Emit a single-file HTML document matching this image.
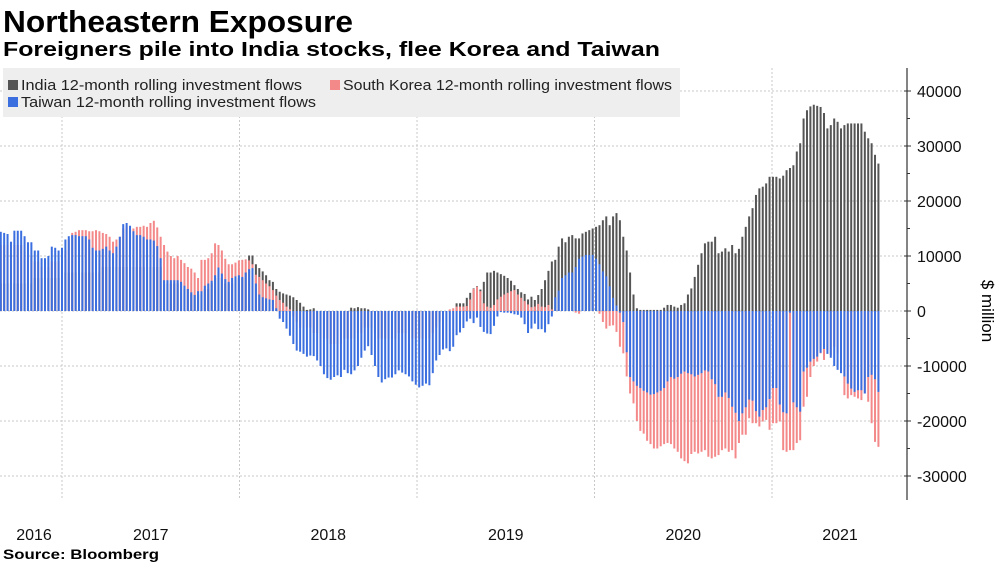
<!DOCTYPE html>
<html><head><meta charset="utf-8">
<style>
html,body{margin:0;padding:0;background:#fff;}
svg{display:block;font-family:"Liberation Sans",sans-serif;}
</style></head>
<body>
<svg id="chart" width="1003" height="564" viewBox="0 0 1003 564" xmlns="http://www.w3.org/2000/svg">
  <text x="3" y="32" font-size="31" font-weight="bold" fill="#000" textLength="350" lengthAdjust="spacingAndGlyphs">Northeastern Exposure</text>
  <text x="3" y="56" font-size="20" font-weight="bold" fill="#000" textLength="657" lengthAdjust="spacingAndGlyphs">Foreigners pile into India stocks, flee Korea and Taiwan</text>
  <g id="grid"></g>
  <g id="bars"></g>
  <g>
    <rect x="3" y="68" width="677" height="49" fill="#eeeeee"/>
    <g>
      <rect x="8" y="80" width="10" height="10" fill="#555555"/>
      <text x="21" y="90" font-size="14.5" fill="#222" textLength="281" lengthAdjust="spacingAndGlyphs">India 12-month rolling investment flows</text>
    </g>
    <g>
      <rect x="330" y="80" width="10" height="10" fill="#f4898a"/>
      <text x="343" y="90" font-size="14.5" fill="#222" textLength="329" lengthAdjust="spacingAndGlyphs">South Korea 12-month rolling investment flows</text>
    </g>
    <g>
      <rect x="8" y="97" width="10" height="10" fill="#3b6fe0"/>
      <text x="21" y="107" font-size="14.5" fill="#222" textLength="295" lengthAdjust="spacingAndGlyphs">Taiwan 12-month rolling investment flows</text>
    </g>
  </g>
  <g id="yaxis"></g>
  <g id="xaxis"></g>
  <text transform="translate(982,311) rotate(90)" text-anchor="middle" font-size="17" fill="#000">$ million</text>
  <text x="3" y="559" font-size="14" font-weight="bold" fill="#000" textLength="156" lengthAdjust="spacingAndGlyphs">Source: Bloomberg</text>
</svg>
<script>
// values in $ thousand-million (x1000 = $ million), weekly bars
const india = [5,5,5,5,5,5,5,5,5,5, 6,6,6,6,6,6,6,6,6,7, 7,7,7,7,7,7,7,7,7,7, 8,8,8,8,8,8,8,8,8,8,
 8,8,8,8,8,8,8,8,5,5, 5,5,5,5,4,4,3,3,3,3, 4,4,5,6,7,6,5,5,5,6, 6,6,7,10.1,10.1,8.5,7.8,7.2,6.5,5.6,
 5.3,4,3.5,3.2,3,2.8,2.5,2,1.5,0.8, 0.2,0.3,0.5,0,0,0,0,0,0,0, 0,0,0,0.6,0.5,0.7,0.5,0.5,0.3,0,
 0,0,0,0,0,0,0,0,0,0, 0,0,0,0,0,0,0,0,0,0, 0,0,0,0,1.4,1.4,1.4,2.4,3.3,4.1,
 4.5,3.9,5.3,7,7,7.3,7,6.7,6.4,6, 5.5,4.7,4,3.4,3.1,2.1,2.6,2,2.9,4, 5.6,7.3,9,9.3,11.7,13.2,12.5,13.5,13.8,13.2,
 13.2,14.1,14.4,14.7,15,15.3,15.6,16.5,17.2,15.6, 17.2,17.8,16.5,13.5,11,7,3,0.5,0.2,0.2,
 0.2,0.2,0.2,0.2,0.2,0.6,1.1,1.1,0.8,0.6, 1.1,1.4,3,4.1,6.2,8.4,10.5,12.3,12.6,12.6,
 13.5,10.5,10.8,11.4,10.8,12,10.5,11.3,13.5,15.3, 17.2,18.7,21.1,22.3,22.6,23.2,24.4,24.4,24.4,24.1,
 24.6,25.6,26,26.5,29,30.5,35,36.5,37.2,37.5, 37.3,37.1,36,33.2,33.8,35,34.4,33.2,33.8,34.1,
 34.1,34.1,34.1,34.1,32.6,31.4,30.5,28.4,26.8];
const korea = [12,12,12,10,12,12,12,11,10,10, 9,9,8,8,8,9,9,9,9,11,
 13,14.2,14.4,14.7,14.7,14.7,14.5,14.5,14.7,14.5, 14.2,14,13.5,12.6,13,13.5,15,15.5,15,15,
 15.3,15.3,15.5,15.3,16,16.4,15.2,13.5,12,10.8, 10,9.6,10,9.3,8.7,8,7.7,7,6,9.3,
 9.3,9.6,10.5,12.3,12,11,9.5,8.5,8.5,8.8, 9.2,9.3,9.4,9.2,8.5,6.6,6.2,5.6,5,4.5,
 3.8,2.8,2,1.5,0.8,0.3,-1,-2,-3,-3, -3,-3,-4,-4,-5,-5,-5,-6,-6,-6,
 -6,-5,-5,-5,-5,-4,-4,-3,-3,-3, -4,-5,-5,-5,-5,-5,-5,-4,-4,-4,
 -4,-5,-5,-5,-5,-5,-5,-4,-3,-2, -1,0,0.3,0.5,0.8,0.8,0.8,0.9,2.1,4,
 4.4,3.6,1.4,0.8,0.6,1.1,2.1,2.6,3,3.3, 3.6,3.8,3,2.4,1.8,1.2,0.7,0.8,1.3,0.8,
 0.7,1.1,0.3,0,0,0,0,0,0,-0.3, -0.5,0,0,0,0,0,-0.5,-2,-3.2,-2.7,
 -2.6,-3.8,-6.5,-7.7,-11.9,-15,-16.8,-20,-21.8,-22.3, -23.6,-24.2,-25,-25,-24.6,-24.2,-24,-24.2,-25,-25.6,
 -26.8,-27.3,-27.7,-26,-25.6,-25.9,-25.6,-25.3,-26.5,-26.8, -26.5,-26.2,-25.3,-25,-25.6,-25.3,-26.8,-24,-22.5,-22.5,
 -19.5,-20.4,-20.4,-21,-20.1,-19.8,-21.6,-20.4,-20.4,-20.1, -25.3,-25.6,-25.3,-25.3,-24,-23.5,-17.4,-15.6,-12,-10,
 -9.2,-7.7,-8.9,-7.1,-8,-6.5,-7.7,-10.1,-15.3,-15.9, -15.3,-15.6,-15.9,-16.2,-15,-16.5,-20.4,-23.8,-24.7];
const taiwan = [14.4,14.2,14,12.6,14.6,14.6,14.6,13.6,12.5,12.5, 11,11,9.6,9.6,10,11.7,11.5,11,11.5,13,
 13.6,13.8,13.8,13.6,13.6,13.6,13,11.5,11,11, 11.3,11.7,11,10.5,11.7,13.5,15.8,16,15.5,14.5,
 13.8,13.8,13.5,13,13,12.8,11.8,9.6,5.6,5.6, 5.6,5.6,5.6,5.3,4.6,4,3.4,2.9,3.6,3.6,
 4.6,5,5.5,6.5,7.9,6.8,5.8,5.3,6,6.3, 6.5,6.2,7,7.6,7.8,5,3,2.5,2.3,2.1,
 2,0.5,-1.4,-2,-3.2,-4.5,-6,-7.2,-7.4,-7.8, -8.3,-8.1,-8.2,-9,-10,-11.5,-12.2,-12.5,-12,-11.7,
 -12,-10.7,-11.3,-11.5,-10.8,-10,-8.5,-7.2,-6.4,-8, -10,-12,-13,-12.4,-12.1,-12.1,-11.5,-10.8,-11.2,-11.5,
 -11.9,-12.8,-13.4,-13.9,-13.6,-13.2,-13.5,-11.3,-9,-8, -7,-6.8,-7.3,-6.5,-4.4,-3.9,-3.1,-1.9,-1.4,-2.2,
 -1.2,-2.9,-3.8,-4.1,-4.2,-2.7,-1,-0.2,-0.3,-0.3, -0.4,-0.6,-0.7,-1.2,-2.4,-4,-3.2,-2.3,-3.3,-3.3,
 -3.9,-2.4,-1,2.5,3.7,6,6.5,7,7,8, 9.5,9.9,10.2,10.2,10.2,9.5,8.5,7.2,6.3,4.5,
 2.4,1,-0.3,-2,-7.5,-12,-12.8,-13.6,-14,-14.5, -14.8,-15.2,-15.1,-14.8,-14.5,-14,-12.8,-12,-12.3,-12,
 -11.4,-11,-11.3,-11.5,-11.9,-11.6,-11.3,-10.8,-11,-12.4, -13.3,-15.6,-15.6,-14.8,-15.8,-17.4,-18.5,-20,-18.6,-17.5,
 -16.1,-16.3,-18.2,-19.2,-18,-17.5,-16,-14,-14,-17, -18.4,-18.6,-0.3,-16.6,-17.5,-18.3,-11,-10.3,-9.2,-8.7,
 -8.3,-7.6,-6.9,-7.8,-8.5,-10,-10.7,-11.3,-11.9,-13.2, -14.1,-14.7,-14.4,-14.4,-15,-12,-11.6,-12.4,-14.7];
const yTicks = [-30000,-20000,-10000,0,10000,20000,30000,40000];
const yearLabels = ["2016","2017","2018","2019","2020","2021"];
const yearStarts = [2016,2017,2018,2019,2020,2021];
const firstBarYear = 2016.655; // date of first weekly bar

const NS = "http://www.w3.org/2000/svg";
const plotLeft = 0, plotRight = 907, plotTop = 68, plotBottom = 500;
function y(v){ return 311 - v * 0.0055; }           // v in $ million
function xYear(t){ return 62 + (t - 2017) * 177.5; }
function xBar(i){ return xYear(firstBarYear + i * 7 / 365.25); }
function mk(tag, attrs, parent){
  const el = document.createElementNS(NS, tag);
  for (const k in attrs) el.setAttribute(k, attrs[k]);
  parent.appendChild(el);
  return el;
}
const grid = document.getElementById('grid');
const bars = document.getElementById('bars');
const yax = document.getElementById('yaxis');
const xax = document.getElementById('xaxis');

yTicks.forEach(v => {
  const g = mk('line', {x1: plotLeft, x2: plotRight, y1: y(v), y2: y(v), stroke: '#c8c8c8', 'stroke-width': 1, 'stroke-dasharray': '2,2'}, grid);
  
  
  const t = mk('line', {x1: plotRight - 3, x2: plotRight + 4, y1: y(v), y2: y(v), stroke: '#333', 'stroke-width': 1}, yax);
  
  
  const lb = mk('text', {x: 917, y: y(v) + 6, 'font-size': 16, fill: '#111'}, yax);
  lb.textContent = v < 0 ? '-' + Math.abs(v) : String(v);
  
  
});
for (let v = -25000; v <= 35000; v += 10000) {
  const t = mk('line', {x1: plotRight, x2: plotRight + 3, y1: y(v), y2: y(v), stroke: '#333', 'stroke-width': 1}, yax);
  
  
}
const axl = mk('line', {x1: plotRight, x2: plotRight, y1: plotTop, y2: plotBottom, stroke: '#333', 'stroke-width': 1.2}, yax);



yearStarts.forEach((yr, k) => {
  const gx = xYear(yr);
  if (gx > 0) {
    const gl = mk('line', {x1: gx, x2: gx, y1: plotTop, y2: plotBottom, stroke: '#c8c8c8', 'stroke-width': 1, 'stroke-dasharray': '2,2'}, grid);
    
    
  }
  let cx = (Math.max(gx, 0) + Math.min(xYear(yr + 1), plotRight)) / 2;
  if (yr === 2016) cx = 34;
  if (yr === 2021) cx = 840;
  const lb = mk('text', {x: cx, y: 540, 'font-size': 16, 'text-anchor': 'middle', fill: '#111'}, xax);
  lb.textContent = yearLabels[k];
  
  
});

function drawBar(v, i, color, name){
  const x = xBar(i) - 1;
  const val = v * 1000;
  const y0 = y(0), y1 = y(val);
  const r = mk('rect', {x: x, y: Math.min(y0, y1), width: 2, height: Math.max(Math.abs(y1 - y0), 0.01), fill: color}, bars);
  
  
}
india.forEach((v, i) => drawBar(v, i, '#555555', 'bar-india'));
korea.forEach((v, i) => drawBar(v, i, '#f4898a', 'bar-south-korea'));
taiwan.forEach((v, i) => drawBar(v, i, '#3b6fe0', 'bar-taiwan'));
</script>
</body></html>
